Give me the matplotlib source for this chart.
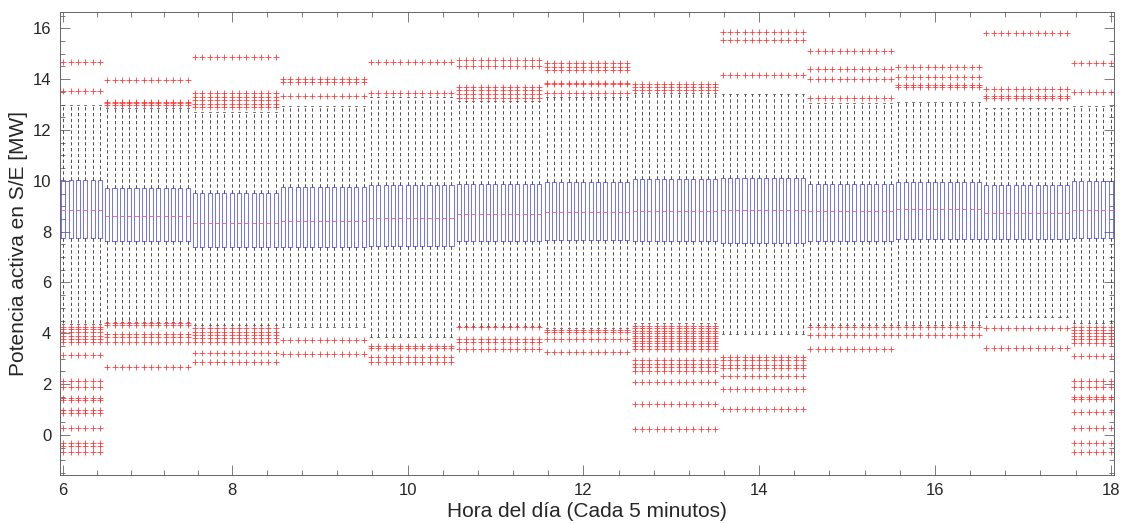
import numpy as np
import matplotlib
matplotlib.use("Agg")
import matplotlib.pyplot as plt
from matplotlib.ticker import FixedLocator

# Hourly groups of 5-minute samples (6:05 ... 18:00)
group_sizes = [6, 12, 12, 12, 12, 12, 12, 12, 12, 12, 12, 12, 6]

q1 = [7.74, 7.63, 7.41, 7.40, 7.43, 7.63, 7.67, 7.63, 7.55, 7.64, 7.71, 7.70, 7.74]
median = [8.84, 8.61, 8.33, 8.42, 8.54, 8.69, 8.77, 8.80, 8.85, 8.82, 8.88, 8.72, 8.84]
q3 = [10.03, 9.70, 9.53, 9.74, 9.82, 9.87, 9.97, 10.06, 10.10, 9.86, 9.97, 9.82, 10.00]
whisker_low = [4.35, 4.46, 4.33, 4.26, 3.87, 4.30, 4.22, 4.40, 3.96, 4.33, 4.33, 4.65, 4.39]
whisker_high = [12.98, 12.85, 12.70, 12.94, 13.30, 13.15, 13.30, 13.45, 13.40, 13.05, 13.10, 12.85, 12.94]

outliers = [
    [14.67, 13.52, 4.26, 4.16, 4.04, 3.91, 3.78, 3.66, 3.15, 2.12, 1.90, 1.44, 1.38,
     0.98, 0.88, 0.29, -0.33, -0.43, -0.68],
    [13.97, 13.11, 13.05, 12.98, 4.39, 4.32, 3.97, 3.87, 3.67, 2.69],
    [14.88, 13.44, 13.31, 13.18, 13.02, 12.89, 4.20, 4.06, 3.93, 3.80, 3.67, 3.24, 2.88],
    [14.00, 13.88, 13.34, 3.74, 3.17],
    [14.67, 13.44, 3.51, 3.41, 3.08, 2.86],
    [14.75, 14.53, 13.70, 13.57, 13.41, 13.25, 4.24, 3.76, 3.67, 3.37],
    [14.62, 14.49, 14.36, 13.86, 13.80, 13.44, 4.13, 4.04, 3.76, 3.25],
    [13.80, 13.68, 13.57, 4.30, 4.20, 4.10, 4.00, 3.90, 3.80, 3.70, 3.60, 3.50, 3.40,
     2.95, 2.79, 2.66, 2.53, 2.10, 1.21, 0.24],
    [15.87, 15.54, 14.16, 3.06, 2.95, 2.75, 2.62, 2.32, 1.81, 1.02],
    [15.12, 14.39, 13.99, 13.27, 4.26, 3.93, 3.37],
    [14.48, 14.08, 13.76, 13.70, 4.24, 3.93],
    [15.80, 13.60, 13.34, 13.25, 4.22, 3.41],
    [14.65, 13.50, 4.24, 4.13, 4.00, 3.89, 3.76, 3.61, 3.11, 2.12, 1.90, 1.48, 1.40,
     0.89, 0.26, -0.33, -0.66],
]

tick_labels = ["6", "8", "10", "12", "14", "16", "18"]

# one box per 5-minute slot, x in hours of the day
n_boxes = sum(group_sizes)
positions = 6 + np.arange(1, n_boxes + 1) / 12.0
step = 1 / 12.0

stats = []
for g, size in enumerate(group_sizes):
    for _ in range(size):
        stats.append(dict(med=median[g], q1=q1[g], q3=q3[g],
                          whislo=whisker_low[g], whishi=whisker_high[g],
                          fliers=np.array(outliers[g])))

plt.rcParams["font.family"] = ["Liberation Sans", "DejaVu Sans"]
text_color = "#262626"

fig = plt.figure(figsize=(11.24, 5.23), dpi=100)
ax = fig.add_axes([0.053, 0.092, 0.9385, 0.885])

box_w = 0.55 * step
ax.bxp(stats, positions=positions, widths=box_w, capwidths=box_w * 0.5,
       manage_ticks=False, showcaps=True,
       boxprops=dict(color="#4a4aff", linewidth=0.55),
       medianprops=dict(color="#ff5a5a", linewidth=0.6),
       whiskerprops=dict(color="#333333", linewidth=0.6, linestyle=(0, (4, 3))),
       capprops=dict(color="#333333", linewidth=0.5),
       flierprops=dict(marker="+", markeredgecolor="#ff3030", markersize=4.6,
                       markeredgewidth=0.55, linestyle="none"))

ax.set_xlim(6 + 0.5 * step, 18 + 0.5 * step)
ax.set_ylim(-1.57, 16.64)

major_x = [6 + step, 8, 10, 12, 14, 16, 18]
minor_x = []
for a, b in zip(major_x[:-1], major_x[1:]):
    minor_x.extend(np.linspace(a, b, 6)[1:-1])
ax.xaxis.set_major_locator(FixedLocator(major_x))
ax.xaxis.set_minor_locator(FixedLocator(minor_x))
ax.set_xticklabels(tick_labels)

ax.set_yticks(np.arange(0, 17, 2))
ax.yaxis.set_minor_locator(FixedLocator(np.arange(-1.5, 16.6, 0.5)))

ax.tick_params(which="both", direction="in", top=True, right=True,
               color="#666666", width=0.6, labelcolor=text_color, labelsize=12)
ax.tick_params(which="major", length=7.5, pad=6)
ax.tick_params(which="minor", length=3.5)
for sp in ax.spines.values():
    sp.set_color("#666666")
    sp.set_linewidth(0.7)

ax.set_xlabel("Hora del día (Cada 5 minutos)", fontsize=15, color=text_color, labelpad=3)
ax.set_ylabel("Potencia activa en S/E [MW]", fontsize=15, color=text_color, labelpad=3)

fig.savefig("out.png", dpi=100, facecolor="white")
